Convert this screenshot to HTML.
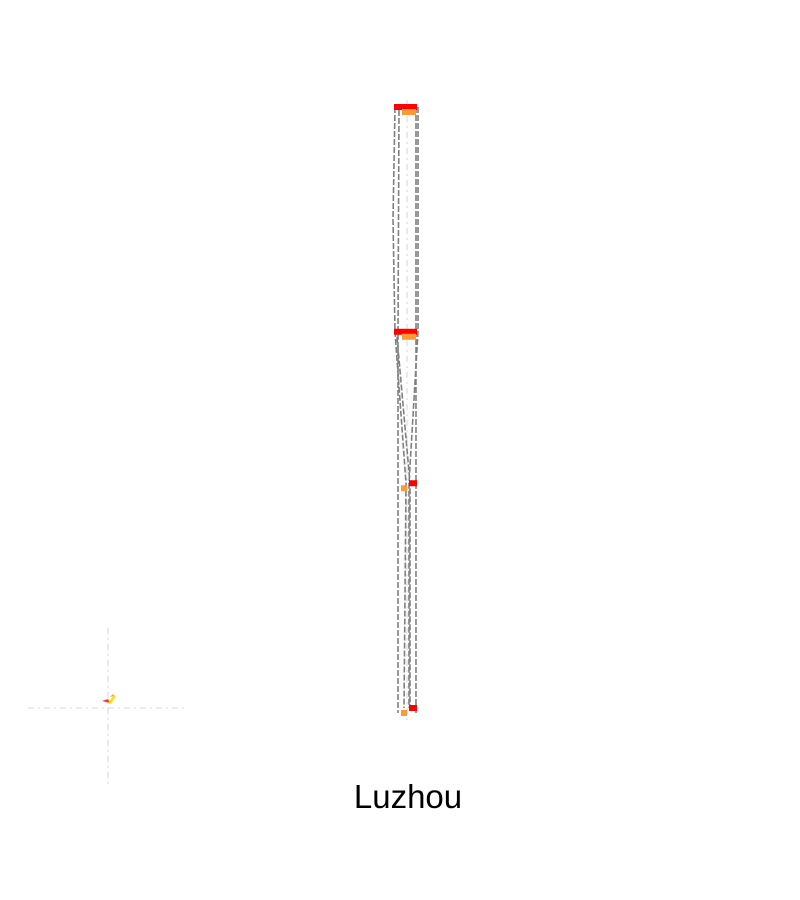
<!DOCTYPE html>
<html><head><meta charset="utf-8"><style>
html,body{margin:0;padding:0;background:#fff;width:800px;height:900px;overflow:hidden}
</style></head><body>
<svg id="chart" width="800" height="900" xmlns="http://www.w3.org/2000/svg">
<line x1="407" y1="100" x2="407" y2="722" stroke="#ddd" stroke-dasharray="6,4,2,4" stroke-width="1.2"/>
<g id="lines"></g>
<g id="marks"></g>
<g>
<line x1="28" y1="708" x2="188" y2="708" stroke="#ddd" stroke-width="1.2" stroke-dasharray="6,4,2,4"/>
<line x1="108" y1="628" x2="108" y2="788" stroke="#ddd" stroke-width="1.2" stroke-dasharray="6,4,2,4"/>
<path d="M102 701 L108 699 L110 703 Z" fill="#f33"/>
<path d="M108 703 L114 695 L116 696 L111 704 Z" fill="#ffe000"/>
<path d="M110 697 L113 694 L114 696 Z" fill="#f93"/>
</g>
<text x="408" y="808" text-anchor="middle" font-family="Liberation Sans, sans-serif" font-size="33" fill="#000">Luzhou</text>
</svg>
<script>
const levels = [100, 62.6, 37.4, 0];
const redX0 = [394, 394, 409, 409];
const redX1 = [417, 417, 417, 417];
const orangeX0 = [402, 402, 401, 401];
const orangeX1 = [416, 416, 407, 407];
function yScale(v){ return 708 - v * 6.01; }
const ns = "http://www.w3.org/2000/svg";
const marks = document.getElementById('marks');
const lines = document.getElementById('lines');
function path(d){
  const p = document.createElementNS(ns,'path');
  p.setAttribute('d', d);
  p.setAttribute('fill','none');
  p.setAttribute('stroke','#808080');
  p.setAttribute('stroke-width','1.6');
  p.setAttribute('stroke-dasharray','6,2');
  
  
  lines.appendChild(p);
}
const y = levels.map(yScale);
path(`M395 ${y[0]} L393 ${(y[0]+y[1])/2} L395 ${y[1]} L406 ${y[2]} L404 ${y[3]}`);
path(`M399 ${y[0]+3} L398 ${y[1]} L398 ${y[3]+5}`);
path(`M416 ${y[0]} L416 ${y[3]+5}`);
path(`M418 ${y[0]} L418 ${y[1]} L409 ${y[2]} L409 ${y[3]}`);
path(`M397 ${y[1]+5} L410 ${y[2]} L410 ${y[3]}`);
levels.forEach((v,i)=>{
  const r = document.createElementNS(ns,'rect');
  r.setAttribute('x', redX0[i]); r.setAttribute('y', yScale(v)-3);
  r.setAttribute('width', redX1[i]-redX0[i]); r.setAttribute('height', 6);
  r.setAttribute('fill','#ff0000');
  
  
  marks.appendChild(r);
  const o = document.createElementNS(ns,'rect');
  o.setAttribute('x', orangeX0[i]); o.setAttribute('y', yScale(v)+2);
  o.setAttribute('width', orangeX1[i]-orangeX0[i]); o.setAttribute('height', 6);
  o.setAttribute('fill','#ff9933');
  
  
  marks.appendChild(o);
});
</script>
</body></html>
